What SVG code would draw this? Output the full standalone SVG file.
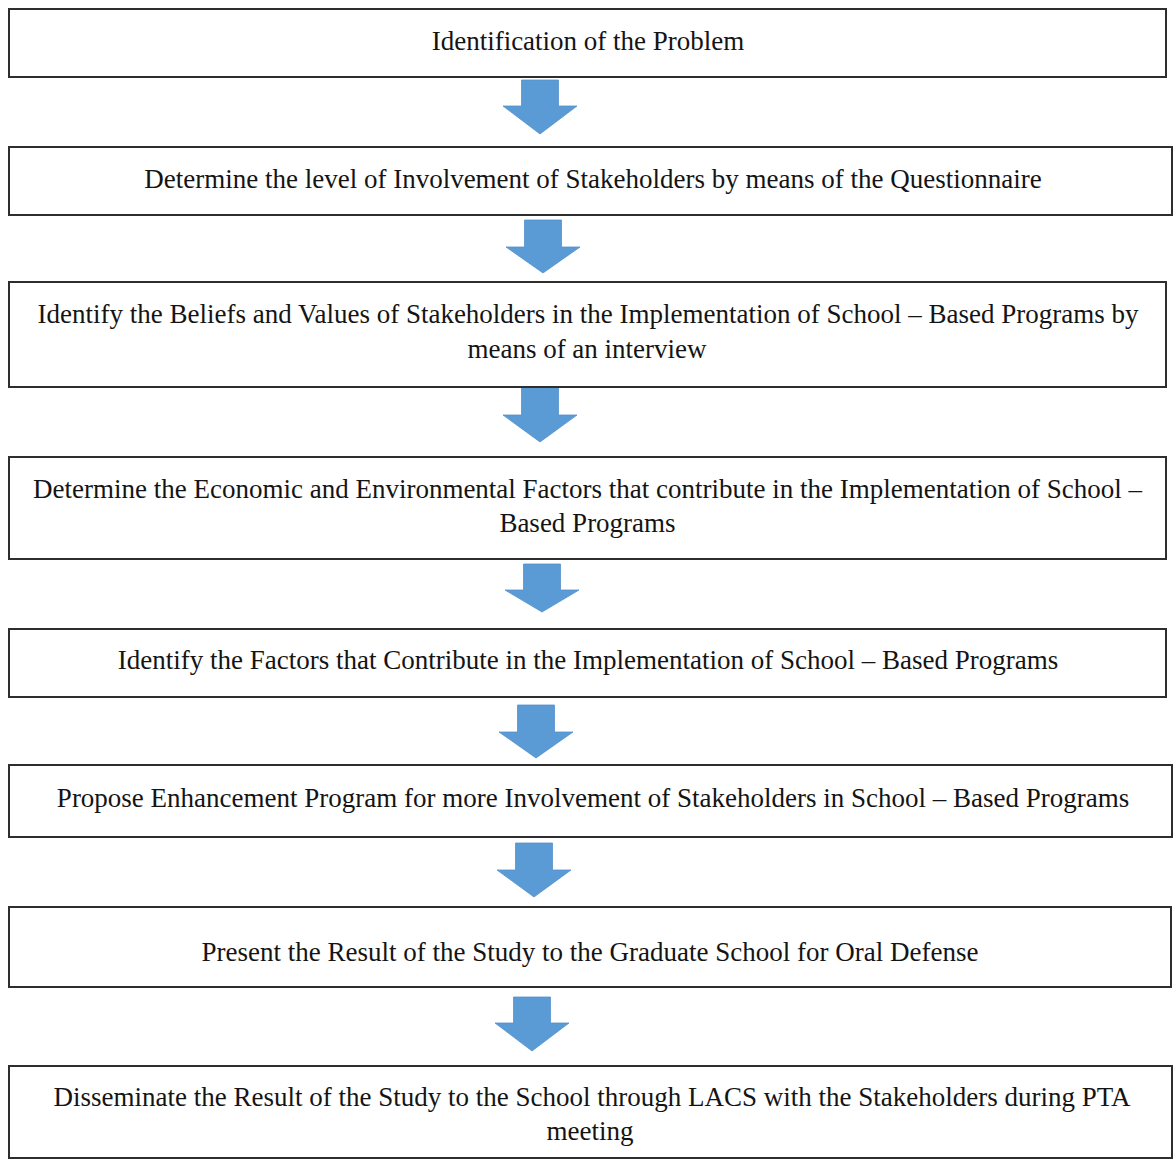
<svg xmlns="http://www.w3.org/2000/svg" width="1173" height="1164" viewBox="0 0 1173 1164">
<style>
.box{fill:#fff;stroke:#2e2e2e;stroke-width:2}
.lbl{font-family:"Liberation Serif","Times New Roman",serif;font-size:27px;fill:#141414;text-anchor:middle}
.arr{fill:#5B9BD5;stroke:#5590CC;stroke-width:0.8}
</style>
<rect width="1173" height="1164" fill="#fff"/>
<g id="connectors">
<path class="arr" d="M521.5,80 H558.5 V106 H577 L540,134 L503,106 H521.5 Z"/>
<path class="arr" d="M524.5,220 H561.5 V247 H580 L543,273 L506,247 H524.5 Z"/>
<path class="arr" d="M521.5,387 H558.5 V415 H577 L540,442 L503,415 H521.5 Z"/>
<path class="arr" d="M523.5,564 H560.5 V590 H579 L542,612 L505,590 H523.5 Z"/>
<path class="arr" d="M517.5,705 H554.5 V732 H573 L536,758 L499,732 H517.5 Z"/>
<path class="arr" d="M515.5,843 H552.5 V870 H571 L534,897 L497,870 H515.5 Z"/>
<path class="arr" d="M513.5,997 H550.5 V1023 H569 L532,1051 L495,1023 H513.5 Z"/>
</g>
<g id="n1"><rect class="box" x="9" y="9" width="1157" height="68"/><text class="lbl" x="588" y="50">Identification of the Problem</text></g>
<g id="n2"><rect class="box" x="9" y="147" width="1163" height="68"/><text class="lbl" x="593" y="188">Determine the level of Involvement of Stakeholders by means of the Questionnaire</text></g>
<g id="n3"><rect class="box" x="9" y="282" width="1157" height="105"/><text class="lbl" x="588" y="323">Identify the Beliefs and Values of Stakeholders in the Implementation of School – Based Programs by</text><text class="lbl" x="587" y="358">means of an interview</text></g>
<g id="n4"><rect class="box" x="9" y="457" width="1157" height="102"/><text class="lbl" x="587.5" y="498">Determine the Economic and Environmental Factors that contribute in the Implementation of School –</text><text class="lbl" x="587.5" y="532">Based Programs</text></g>
<g id="n5"><rect class="box" x="9" y="629" width="1157" height="68"/><text class="lbl" x="588" y="669">Identify the Factors that Contribute in the Implementation of School – Based Programs</text></g>
<g id="n6"><rect class="box" x="9" y="765" width="1163" height="72"/><text class="lbl" x="593" y="807">Propose Enhancement Program for more Involvement of Stakeholders in School – Based Programs</text></g>
<g id="n7"><rect class="box" x="9" y="907" width="1162" height="80"/><text class="lbl" x="590" y="961">Present the Result of the Study to the Graduate School for Oral Defense</text></g>
<g id="n8"><rect class="box" x="9" y="1066" width="1163" height="92"/><text class="lbl" x="592" y="1106">Disseminate the Result of the Study to the School through LACS with the Stakeholders during PTA</text><text class="lbl" x="590" y="1140">meeting</text></g>
</svg>
